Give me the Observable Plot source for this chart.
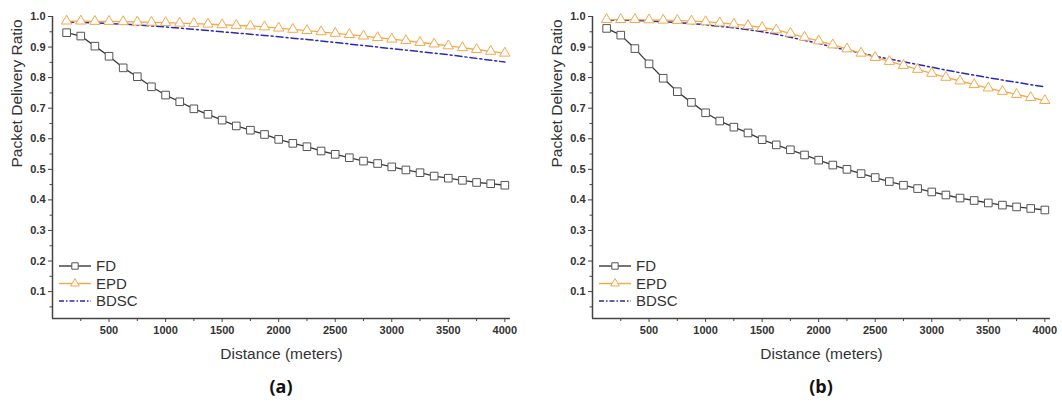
<!DOCTYPE html>
<html><head><meta charset="utf-8">
<script src="https://cdn.jsdelivr.net/npm/d3@7"></script>
<script src="https://cdn.jsdelivr.net/npm/@observablehq/plot@0.6"></script>
<style>
body{margin:0;background:#fff;}
#wrap{display:flex;width:1062px;height:403px;overflow:hidden;}
.panel{position:relative;}
.cap{font-family:"Open Sans","Liberation Sans",sans-serif;font-weight:bold;font-size:18px;color:#111;text-align:center;line-height:26px;margin-top:1px;}
</style></head>
<body><div id="wrap"><div class="panel" id="pa"></div><div class="panel" id="pb"></div></div>
<script>
const distance = [125,250,375,500,625,750,875,1000,1125,1250,1375,1500,1625,1750,1875,2000,2125,2250,2375,2500,2625,2750,2875,3000,3125,3250,3375,3500,3625,3750,3875,4000];

// Panel (a)
const fdA   = [0.947,0.936,0.903,0.870,0.832,0.803,0.770,0.743,0.721,0.698,0.680,0.661,0.642,0.628,0.614,0.598,0.585,0.574,0.560,0.549,0.538,0.527,0.519,0.508,0.498,0.489,0.478,0.471,0.464,0.457,0.453,0.448];
const epdA  = [0.985,0.985,0.984,0.984,0.983,0.982,0.981,0.980,0.978,0.977,0.975,0.973,0.971,0.969,0.966,0.962,0.958,0.954,0.950,0.945,0.941,0.936,0.931,0.926,0.921,0.915,0.910,0.904,0.898,0.892,0.886,0.880];
const bdscA = [0.982,0.981,0.979,0.977,0.975,0.972,0.969,0.966,0.962,0.958,0.954,0.950,0.946,0.942,0.938,0.934,0.929,0.925,0.920,0.915,0.910,0.905,0.900,0.895,0.890,0.885,0.880,0.875,0.869,0.863,0.857,0.851];

// Panel (b)
const fdB   = [0.961,0.939,0.895,0.845,0.798,0.754,0.719,0.685,0.658,0.638,0.619,0.597,0.580,0.564,0.547,0.530,0.514,0.500,0.486,0.473,0.460,0.448,0.437,0.426,0.416,0.406,0.398,0.390,0.383,0.377,0.372,0.367];
const epdB  = [0.990,0.990,0.990,0.989,0.988,0.987,0.985,0.983,0.979,0.975,0.970,0.964,0.956,0.945,0.932,0.920,0.907,0.894,0.880,0.866,0.853,0.840,0.827,0.814,0.801,0.789,0.777,0.766,0.755,0.745,0.735,0.725];
const bdscB = [0.988,0.988,0.987,0.985,0.983,0.980,0.977,0.973,0.968,0.963,0.957,0.950,0.942,0.932,0.922,0.912,0.900,0.890,0.880,0.870,0.861,0.852,0.843,0.834,0.825,0.816,0.808,0.800,0.792,0.785,0.777,0.770];

const seriesNames = ["FD","EPD","BDSC"];
const xMajor = [500,1000,1500,2000,2500,3000,3500,4000];
const xMinor = [250,750,1250,1750,2250,2750,3250,3750];
const yMajor = [0.1,0.2,0.3,0.4,0.5,0.6,0.7,0.8,0.9,1.0];
const yMinor = [0.05,0.15,0.25,0.35,0.45,0.55,0.65,0.75,0.85,0.95];
const xLabel = "Distance (meters)";
const yLabel = "Packet Delivery Ratio";
const captions = ["(a)","(b)"];

const colFD = "#3a3a3a", colEPD = "#f4a84a", colBDSC = "#2a2ab8";
const dashBDSC = "7,3,2,3";

function panel(el, fd, epd, bdsc, cap, width, mr) {
  const rows = (vals) => distance.map((d,i)=>({x:d, y:vals[i]}));
  const F = rows(fd), E = rows(epd), B = rows(bdsc);
  const ml = 52;
  const chart = Plot.plot({
    width, height: 372, marginLeft: ml, marginRight: mr, marginTop: 16, marginBottom: 54,
    style: {fontFamily: "'Liberation Sans', Arial, sans-serif", fontSize: "11px", color: "#333", background: "#fff", overflow: "visible"},
    x: {domain: [0, 4050]},
    y: {domain: [0.012, 1.0]},
    marks: [
      Plot.axisX({ticks: xMajor, tickSize: 4, tickPadding: 4, tickFormat: d => String(d), fontWeight: "bold", label: null, stroke: "#444"}),
      Plot.axisX({ticks: xMinor, tickSize: 3, tickFormat: () => "", label: null, stroke: "#444"}),
      Plot.axisY({ticks: yMajor, tickSize: 4, tickPadding: 3, tickFormat: d3.format(".1f"), fontWeight: "bold", label: null, stroke: "#444"}),
      Plot.axisY({ticks: yMinor, tickSize: 2.5, tickFormat: () => "", label: null, stroke: "#444"}),
      Plot.ruleY([0.012], {stroke: "#444", strokeWidth: 1.5}),
      Plot.ruleX([0], {stroke: "#444", strokeWidth: 1.5}),
      Plot.text([xLabel], {text: d => d, frameAnchor: "bottom", dy: 40, fontSize: 15.5, fill: "#333"}),
      Plot.text([yLabel], {text: d => d, frameAnchor: "left", dx: -35, rotate: -90, fontSize: 15.5, fill: "#333"}),
      Plot.line(B, {x: "x", y: "y", stroke: colBDSC, strokeWidth: 1.5, strokeDasharray: dashBDSC}),
      Plot.line(E, {x: "x", y: "y", stroke: colEPD, strokeWidth: 1.3}),
      Plot.dot(E, {x: "x", y: "y", symbol: "triangle", r: 3.8, stroke: colEPD, fill: "#fff", strokeWidth: 1}),
      Plot.line(F, {x: "x", y: "y", stroke: colFD, strokeWidth: 1.3}),
      Plot.dot(F, {x: "x", y: "y", symbol: "square", r: 4.3, stroke: "#555", fill: "#fff", strokeWidth: 1})
    ]
  });
  // legend
  const svg = d3.select(chart);
  const lg = svg.append("g").attr("font-family", "'Liberation Sans', Arial, sans-serif").attr("font-size", 15).attr("fill", "#333").attr("text-anchor", "start");
  const styles = [
    {name: seriesNames[0], stroke: colFD, sym: d3.symbolSquare, size: Math.PI*3.6*3.6, mstroke: "#555", dash: null},
    {name: seriesNames[1], stroke: colEPD, sym: d3.symbolTriangle, size: Math.PI*3.2*3.2, mstroke: colEPD, dash: null},
    {name: seriesNames[2], stroke: colBDSC, sym: null, dash: "5,2,1.5,2"}
  ];
  styles.forEach((s, i) => {
    const yy = 266 + i*17.5;
    lg.append("line").attr("x1", 59).attr("x2", 91).attr("y1", yy).attr("y2", yy)
      .attr("stroke", s.stroke).attr("stroke-width", 1.4).attr("stroke-dasharray", s.dash);
    if (s.sym) lg.append("path").attr("d", d3.symbol(s.sym, s.size)()).attr("transform", `translate(75,${yy})`)
      .attr("fill", "#fff").attr("stroke", s.mstroke).attr("stroke-width", 1);
    lg.append("text").attr("x", 96).attr("y", yy).attr("dy", "0.36em").attr("text-anchor", "start").text(s.name);
  });
  const root = document.getElementById(el);
  root.style.width = width + "px";
  root.appendChild(chart);
  const c = document.createElement("div");
  c.className = "cap";
  c.style.marginLeft = ml + "px";
  c.style.width = (width - ml - mr) + "px";
  c.textContent = cap;
  root.appendChild(c);
}
panel("pa", fdA, epdA, bdscA, captions[0], 540, 30);
panel("pb", fdB, epdB, bdscB, captions[1], 522, 12);
</script>
</body></html>
